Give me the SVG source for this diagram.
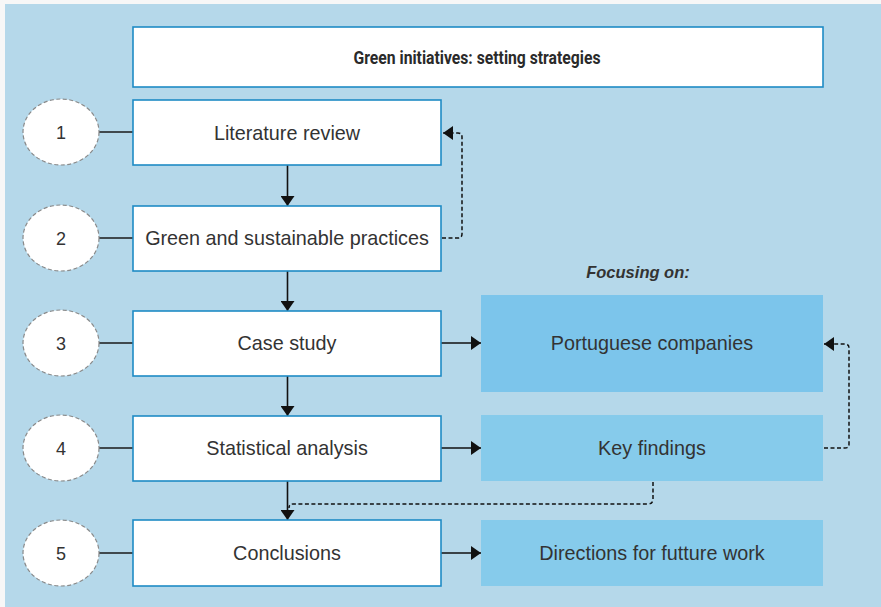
<svg xmlns="http://www.w3.org/2000/svg" width="881" height="607" viewBox="0 0 881 607">
  <defs>
    <style>
      .panel { fill: #b5d8ea; }
      .step { fill: #ffffff; stroke: #1f8bc5; stroke-width: 1.6; }
      .focus { fill: #7cc5eb; }
      .finding { fill: #86cbeb; }
      .badge { fill: #ffffff; stroke: #8a8a8a; stroke-width: 1.2; stroke-dasharray: 4 2.5; }
      .label { font-family: "Liberation Sans", Arial, sans-serif; font-size: 19.8px; fill: #333333; text-anchor: middle; }
      .num { font-family: "Liberation Sans", Arial, sans-serif; font-size: 18px; fill: #333333; text-anchor: middle; }
      .title { font-family: "Roboto", "Liberation Sans", sans-serif; font-weight: bold; font-size: 18px; fill: #2a2a2a; text-anchor: middle; }
      .note { font-family: "Liberation Sans", Arial, sans-serif; font-weight: bold; font-style: italic; font-size: 16.5px; fill: #333333; text-anchor: middle; }
      .link { fill: none; stroke: #1a1a1a; stroke-width: 1.6; }
      .flow { fill: none; stroke: #111111; stroke-width: 1.6; }
      .loop { fill: none; stroke: #111111; stroke-width: 1.5; stroke-dasharray: 4 2.5; }
    </style>
    <marker id="headDown" viewBox="0 0 14 10" refX="7" refY="10" markerWidth="14" markerHeight="10" markerUnits="userSpaceOnUse" orient="0">
      <path d="M0,0 L14,0 L7,10 Z" fill="#111111"/>
    </marker>
    <marker id="headSide" viewBox="0 0 10 14" refX="10" refY="7" markerWidth="10" markerHeight="14" markerUnits="userSpaceOnUse" orient="auto">
      <path d="M0,0 L10,7 L0,14 Z" fill="#111111"/>
    </marker>
  </defs>

  <rect x="0" y="0" width="881" height="607" fill="#f7f7f7"/>
  <rect class="panel" x="5" y="4" width="876" height="603"/>

  <g id="title">
    <rect class="step" x="133" y="27" width="690" height="60"/>
    <text class="title" x="477" y="64" textLength="247" lengthAdjust="spacingAndGlyphs">Green initiatives: setting strategies</text>
  </g>

  <!-- connectors -->
  <g id="connectors">
    <!-- badge to step ties -->
    <line class="link" x1="99" y1="132" x2="133" y2="132"/>
    <line class="link" x1="99" y1="238" x2="133" y2="238"/>
    <line class="link" x1="99" y1="343" x2="133" y2="343"/>
    <line class="link" x1="99" y1="448" x2="133" y2="448"/>
    <line class="link" x1="99" y1="553" x2="133" y2="553"/>
    <!-- main flow -->
    <line class="flow" x1="287.5" y1="165" x2="287.5" y2="206" marker-end="url(#headDown)"/>
    <line class="flow" x1="287.5" y1="271" x2="287.5" y2="311" marker-end="url(#headDown)"/>
    <line class="flow" x1="287.5" y1="376" x2="287.5" y2="416" marker-end="url(#headDown)"/>
    <line class="flow" x1="287.5" y1="481" x2="287.5" y2="520" marker-end="url(#headDown)"/>
    <!-- outputs -->
    <line class="flow" x1="441" y1="343" x2="481" y2="343" marker-end="url(#headSide)"/>
    <line class="flow" x1="441" y1="448" x2="481" y2="448" marker-end="url(#headSide)"/>
    <line class="flow" x1="441" y1="553" x2="481" y2="553" marker-end="url(#headSide)"/>
    <!-- feedback loops -->
    <path class="loop" d="M442,238 H458 Q462,238 462,234 V137 Q462,133 458,133 H443" marker-end="url(#headSide)"/>
    <path class="loop" d="M824,448 H845 Q849,448 849,444 V348 Q849,344 845,344 H824" marker-end="url(#headSide)"/>
    <path class="loop" d="M653,482 V499 Q653,504 648,504 H293 Q289,504 289,508"/>
  </g>

  <g id="step1">
    <ellipse class="badge" cx="61" cy="132" rx="38" ry="33"/>
    <text class="num" x="61" y="138.5">1</text>
    <rect class="step" x="133" y="100" width="308" height="65"/>
    <text class="label" x="287" y="139.5">Literature review</text>
  </g>

  <g id="step2">
    <ellipse class="badge" cx="61" cy="238" rx="38" ry="33"/>
    <text class="num" x="61" y="244.5">2</text>
    <rect class="step" x="133" y="206" width="308" height="65"/>
    <text class="label" x="287" y="245">Green and sustainable practices</text>
  </g>

  <g id="step3">
    <ellipse class="badge" cx="61" cy="343" rx="38" ry="33"/>
    <text class="num" x="61" y="349.5">3</text>
    <rect class="step" x="133" y="311" width="308" height="65"/>
    <text class="label" x="287" y="350">Case study</text>
  </g>

  <g id="step4">
    <ellipse class="badge" cx="61" cy="448" rx="38" ry="33"/>
    <text class="num" x="61" y="454.5">4</text>
    <rect class="step" x="133" y="416" width="308" height="65"/>
    <text class="label" x="287" y="455">Statistical analysis</text>
  </g>

  <g id="step5">
    <ellipse class="badge" cx="61" cy="553" rx="38" ry="33"/>
    <text class="num" x="61" y="559.5">5</text>
    <rect class="step" x="133" y="520" width="308" height="66"/>
    <text class="label" x="287" y="560">Conclusions</text>
  </g>

  <g id="focus-note">
    <text class="note" x="638" y="278">Focusing on:</text>
  </g>

  <g id="portuguese-companies">
    <rect class="focus" x="481" y="295" width="342" height="97"/>
    <text class="label" x="652" y="350">Portuguese companies</text>
  </g>

  <g id="key-findings">
    <rect class="finding" x="481" y="415" width="342" height="66"/>
    <text class="label" x="652" y="455">Key findings</text>
  </g>

  <g id="future-work">
    <rect class="finding" x="481" y="520" width="342" height="66"/>
    <text class="label" x="652" y="560">Directions for futture work</text>
  </g>
</svg>
